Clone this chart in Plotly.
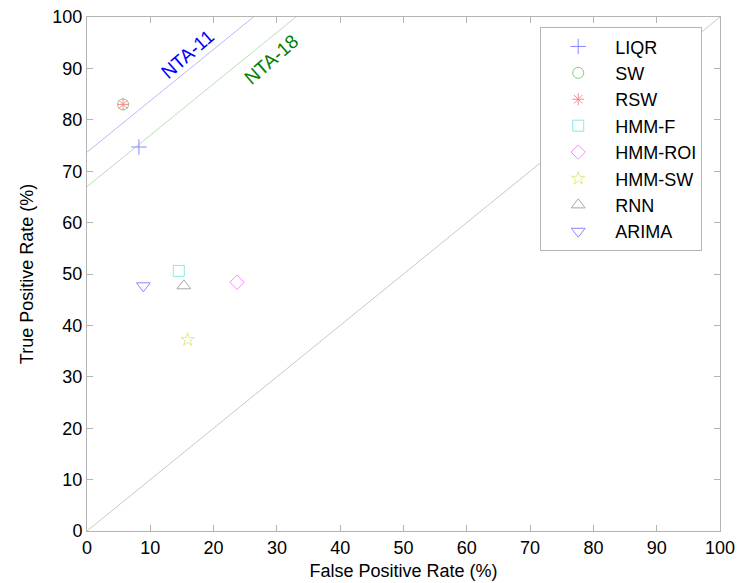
import plotly.graph_objects as go

# Data
methods = ["LIQR", "SW", "RSW", "HMM-F", "HMM-ROI", "HMM-SW", "RNN", "ARIMA"]
fpr = [8.2, 5.7, 5.7, 14.5, 23.7, 15.9, 15.3, 8.9]
tpr = [74.7, 83.0, 83.0, 50.6, 48.4, 37.2, 47.7, 47.7]
symbols = ["cross-thin-open", "circle-open", "asterisk-open", "square-open",
           "diamond-open", "star-open", "triangle-up-open", "triangle-down-open"]
colors = ["#8888ff", "#88cc88", "#ff8888", "#88e8e8", "#ff88ff", "#e6e68a", "#a8a8a8", "#8888ff"]
sizes = [11, 11, 10, 11, 11, 10, 12, 12]

diag_x = [0, 100]
diag_y = [0, 100]
nta11_x = [0, 26.3]
nta11_y = [73.7, 100]
nta18_x = [0, 33.0]
nta18_y = [67.0, 100]

FONT = "Liberation Sans, Arial"

fig = go.Figure()
fig.add_trace(go.Scatter(x=diag_x, y=diag_y, mode="lines", line=dict(color="#c8c8c8", width=1), showlegend=False, hoverinfo="skip"))
fig.add_trace(go.Scatter(x=nta11_x, y=nta11_y, mode="lines", line=dict(color="#b8b8ff", width=1), showlegend=False, hoverinfo="skip"))
fig.add_trace(go.Scatter(x=nta18_x, y=nta18_y, mode="lines", line=dict(color="#b8e0b8", width=1), showlegend=False, hoverinfo="skip"))

for m, x, y, s, c, sz in zip(methods, fpr, tpr, symbols, colors, sizes):
    fig.add_trace(go.Scatter(x=[x], y=[y], mode="markers", name=m, legendgroup=m,
                             marker=dict(symbol=s, size=sz, color=c, line=dict(color=c, width=1))))

fig.add_annotation(x=15.8, y=92.8, text="NTA-11", showarrow=False, textangle=-41,
                   font=dict(color="#0000ff", size=19, family=FONT))
fig.add_annotation(x=29.1, y=91.8, text="NTA-18", showarrow=False, textangle=-41,
                   font=dict(color="#008000", size=19, family=FONT))

axis_common = dict(range=[0, 100], dtick=10, showgrid=False, zeroline=False, showline=True,
                   linecolor="#b4b4b4", linewidth=1, mirror="ticks", ticks="inside", ticklen=6,
                   tickcolor="#b4b4b4", tickfont=dict(size=18, color="black", family=FONT),
                   automargin=False)
fig.update_xaxes(title=dict(text="False Positive Rate (%)", font=dict(size=18, color="black", family=FONT), standoff=7), **axis_common)
fig.update_yaxes(title=dict(text="True Positive Rate (%)", font=dict(size=18, color="black", family=FONT), standoff=14), **axis_common)

fig.update_layout(
    width=754, height=583,
    margin=dict(l=87, r=34, t=17, b=52),
    paper_bgcolor="white", plot_bgcolor="white",
    font=dict(family=FONT, color="black"),
    legend=dict(x=0.716, y=0.98, xanchor="left", yanchor="top", bgcolor="white",
                bordercolor="#b4b4b4", borderwidth=1, font=dict(size=18, color="black", family=FONT),
                tracegroupgap=0, itemwidth=64),
)
fig.write_html("out.html")
